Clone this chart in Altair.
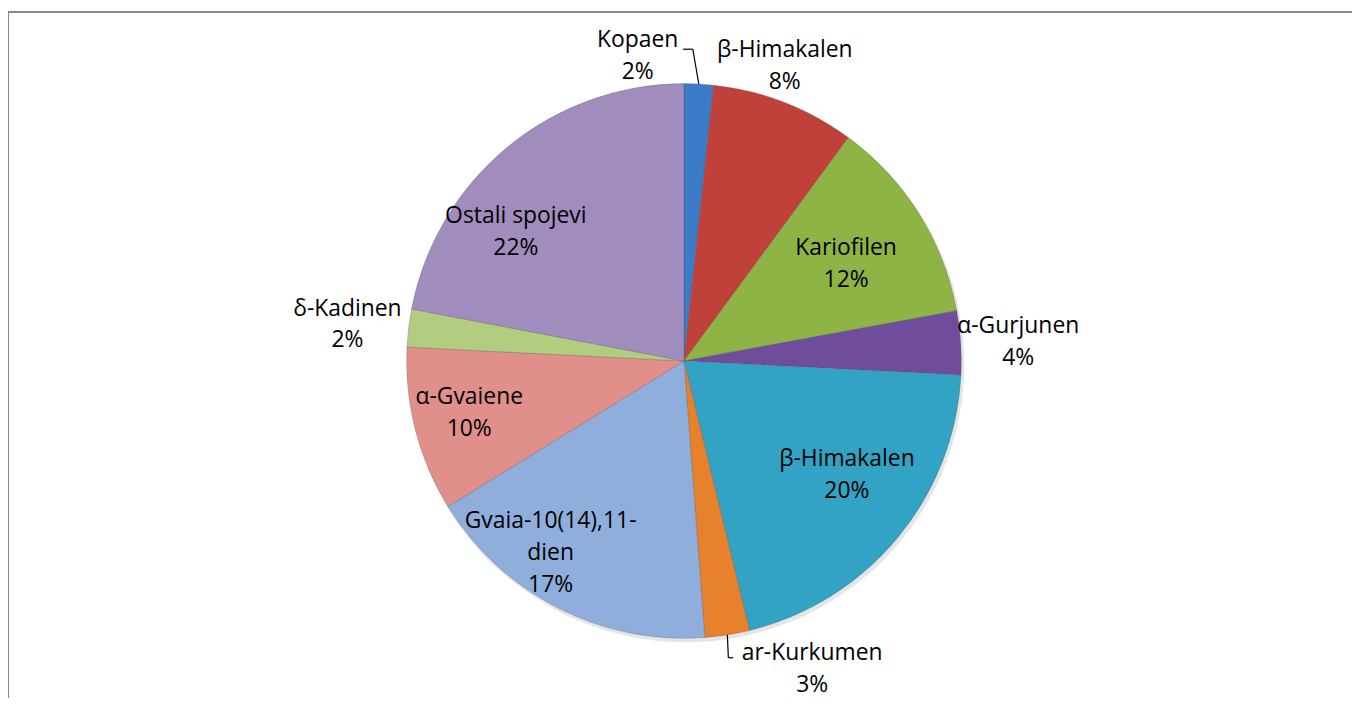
import altair as alt
import pandas as pd

# ---- data ----
names = ["Kopaen", "β-Himakalen", "Kariofilen", "α-Gurjunen", "β-Himakalen",
         "ar-Kurkumen", "Gvaia-10(14),11-\ndien", "α-Gvaiene", "δ-Kadinen", "Ostali spojevi"]
values = [1.7, 8.4, 12.0, 3.7, 20.4, 2.6, 17.4, 9.6, 2.2, 22.0]
colors = ["#3C7BC8", "#C0403A", "#8EB446", "#6F4D9C", "#32A3C4",
          "#E8812C", "#8FAEDC", "#E08F8B", "#B2CD80", "#A08DBE"]

# ---- layout ----
W, H = 1352, 692
CX, CY, R = 680, 353, 279
FONT = "Open Sans"
LH = 32

df = pd.DataFrame({"idx": list(range(len(names))), "name": names, "value": values})

base = alt.Chart(df).transform_joinaggregate(total="sum(value)").transform_calculate(
    label="datum.name + '\\n' + format(datum.value / datum.total * 100, '.0f') + '%'"
)

shadow = alt.Chart(pd.DataFrame({"a": [0]})).mark_arc(
    outerRadius=R + 1, theta=0, theta2=6.2832, color="#000000", opacity=0.10
).encode(x=alt.value(CX + 2), y=alt.value(CY + 3))

arcs = base.mark_arc(outerRadius=R, stroke="#4d4d4d", strokeWidth=0.6, strokeOpacity=0.45).encode(
    theta=alt.Theta("value:Q", stack=True),
    order=alt.Order("idx:Q"),
    color=alt.Color("idx:N", scale=alt.Scale(domain=list(range(len(names))), range=colors), legend=None),
    x=alt.value(CX), y=alt.value(CY),
)

# per-label placement: radius, dx, dy (dy of the block centre), number of lines
label_layout = {0: (307, -63, 0, 2), 1: (313, -12, -5, 2), 2: (190, 2, 3, 2), 3: (337, 0, 3, 2),
                4: (201, 9, -13, 2), 5: (300, 82, 14, 2), 6: (236, -27, -17, 3), 7: (222, -1, -3, 2),
                8: (341, 0, 4, 2), 9: (212, -34, 34, 2)}
texts = []
for i, (r, dx, dy, n) in label_layout.items():
    texts.append(base.mark_text(
        radius=r, dx=dx, dy=dy - (n - 1) * LH / 2, align="center", baseline="middle", lineBreak="\n",
        font=FONT, fontSize=23, lineHeight=LH, color="#000000"
    ).encode(
        theta=alt.Theta("value:Q", stack=True),
        order=alt.Order("idx:Q"),
        text=alt.condition(alt.datum.idx == i, alt.Text("label:N"), alt.value("")),
        x=alt.value(CX), y=alt.value(CY),
    ))

geo = base.transform_window(
    cum="sum(value)", sort=[alt.SortField("idx")], frame=[None, 0]
).transform_calculate(
    ang="(datum.cum - datum.value / 2) / datum.total * 2 * PI",
    ex=f"{CX} + {R} * sin(datum.ang)",
    ey=f"{CY} - {R} * cos(datum.ang)",
)

def leader(i, x1, y1, x2, y2):
    return geo.transform_filter(alt.datum.idx == i).transform_calculate(
        lx1=f"datum.ex + ({x1})", ly1=f"datum.ey + ({y1})",
        lx2=f"datum.ex + ({x2})", ly2=f"datum.ey + ({y2})",
    ).mark_rule(color="#000000", strokeWidth=1.2).encode(
        x=alt.X("lx1:Q", scale=None, axis=None), y=alt.Y("ly1:Q", scale=None, axis=None),
        x2="lx2:Q", y2="ly2:Q",
    )

leaders = [
    leader(0, 0, 0, -6, -35), leader(0, -6, -35, -16, -35),
    leader(5, 0, 0, 1, 23), leader(5, 1, 23, 6, 23),
]

frame_df = pd.DataFrame({"a": [0]})
border_top = alt.Chart(frame_df).mark_rule(color="#898989", strokeWidth=2).encode(
    x=alt.value(0), x2=alt.value(W), y=alt.value(2))
border_left = alt.Chart(frame_df).mark_rule(color="#898989", strokeWidth=2).encode(
    x=alt.value(0), y=alt.value(2), y2=alt.value(H))

chart = alt.layer(shadow, arcs, *texts, *leaders, border_top, border_left).properties(
    width=W, height=H, padding=0, autosize="none", background="#ffffff"
).configure_view(stroke=None)

chart.save("out.html", embed_options={"renderer": "svg", "actions": False})
